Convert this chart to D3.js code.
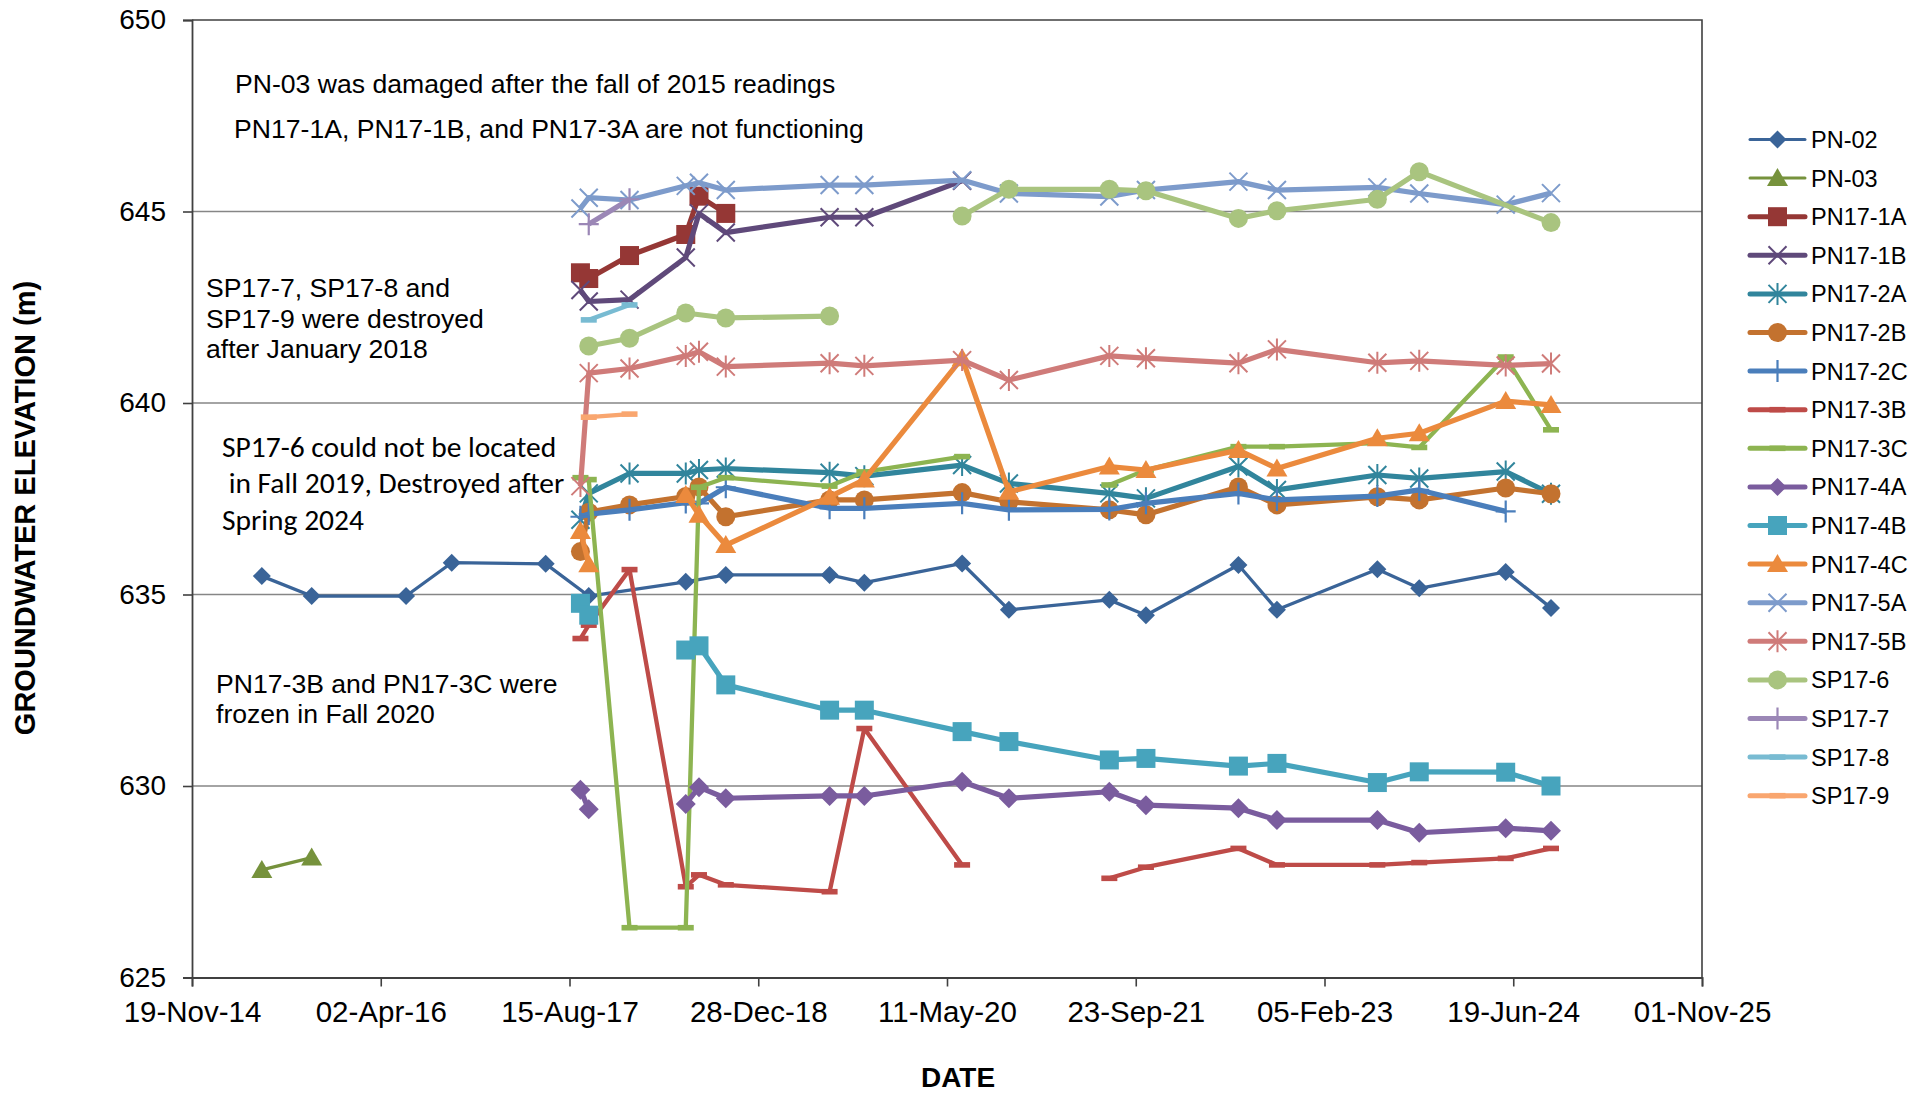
<!DOCTYPE html>
<html>
<head>
<meta charset="utf-8">
<script src="https://cdn.jsdelivr.net/npm/d3@7"></script>
<style>
  body { margin: 0; background: #fff; }
  text { font-family: 'Liberation Sans', Arial, sans-serif; fill: #000; }
</style>
</head>
<body>
<div id="root"></div>
<script>
'use strict';

// sampling dates (shared by all wells); null = no reading on that date
const sampleDates = ['2015-05-23', '2015-10-02', '2016-06-08', '2016-10-07', '2017-06-13',
                     '2017-09-13', '2017-10-05', '2018-01-21', '2018-06-19', '2018-07-24',
                     '2018-10-03', '2019-07-05', '2019-10-05', '2020-06-20', '2020-10-22',
                     '2021-07-15', '2021-10-20', '2022-06-22', '2022-10-02', '2023-06-25',
                     '2023-10-14', '2024-05-30', '2024-09-27'];

const pn02   = [635.48, 634.96, 634.96, 635.83, 635.80, null, 634.96, null, 635.33, null, 635.51,
                635.51, 635.31, 635.81, 634.60, 634.86, 634.46, 635.77, 634.60, 635.66, 635.16, 635.59, 634.65];
const pn03   = [627.81, 628.13, null, null, null, null, null, null, null, null, null,
                null, null, null, null, null, null, null, null, null, null, null, null];
const pn171A = [null, null, null, null, null, 643.40, 643.25, 643.85, 644.40, 645.40, 644.95,
                null, null, null, null, null, null, null, null, null, null, null, null];
const pn171B = [null, null, null, null, null, 642.95, 642.65, 642.70, 643.80, 644.95, 644.45,
                644.85, 644.85, 645.80, null, null, null, null, null, null, null, null, null];
const pn172A = [null, null, null, null, null, 636.95, 637.64, 638.16, 638.16, 638.25, 638.29,
                638.18, 638.09, 638.38, 637.90, 637.64, 637.51, 638.34, 637.73, 638.12, 638.03, 638.21, 637.63];
const pn172B = [null, null, null, null, null, 636.12, 637.15, 637.34, 637.56, 637.81, 637.03,
                637.47, 637.47, 637.66, 637.42, 637.21, 637.08, 637.81, 637.34, 637.55, 637.47, 637.78, 637.63];
const pn172C = [null, null, null, null, null, 637.03, 637.10, 637.21, 637.40, 637.38, 637.80,
                637.25, 637.25, 637.38, 637.21, 637.22, 637.38, 637.64, 637.47, 637.57, 637.73, 637.17, null];
const pn173B = [null, null, null, null, null, 633.85, 634.20, 635.65, 627.37, 627.68, 627.42,
                627.24, 631.50, 627.94, null, 627.59, 627.88, 628.37, 627.94, 627.94, 628.00, 628.11, 628.37];
const pn173C = [null, null, null, null, null, 638.05, 638.00, 626.30, 626.30, 637.80, 638.05,
                637.83, 638.20, 638.60, null, 637.86, 638.25, 638.86, 638.86, 638.95, 638.84, 641.20, 639.30];
const pn174A = [null, null, null, null, null, 629.90, 629.39, null, 629.53, 629.97, 629.68,
                629.74, 629.74, 630.11, 629.68, 629.85, 629.50, 629.42, 629.11, 629.11, 628.78, 628.90, 628.83];
const pn174B = [null, null, null, null, null, 634.77, 634.46, null, 633.55, 633.66, 632.64,
                631.98, 631.98, 631.42, 631.16, 630.68, 630.72, 630.52, 630.59, 630.09, 630.37, 630.36, 630.00];
const pn174C = [null, null, null, null, null, 636.66, 635.79, null, 637.60, 637.08, 636.29,
                637.55, 638.00, 641.17, 637.68, 638.34, 638.25, 638.77, 638.29, 639.08, 639.21, 640.05, 639.95];
const pn175A = [null, null, null, null, null, 645.08, 645.36, 645.30, 645.67, 645.75, 645.56,
                645.69, 645.69, 645.82, 645.47, 645.39, 645.56, 645.78, 645.56, 645.63, 645.47, 645.18, 645.48];
const pn175B = [null, null, null, null, null, 637.83, 640.78, 640.90, 641.23, 641.34, 640.95,
                641.04, 640.97, 641.12, 640.60, 641.23, 641.17, 641.04, 641.40, 641.05, 641.10, 640.98, 641.03];
const sp176  = [null, null, null, null, null, null, 641.49, 641.69, 642.35, null, 642.22,
                642.27, null, 644.88, 645.58, 645.58, 645.54, 644.82, 645.02, 645.32, 646.04, null, 644.71];
const sp177  = [null, null, null, null, null, null, 644.67, 645.32, null, null, null,
                null, null, null, null, null, null, null, null, null, null, null, null];
const sp178  = [null, null, null, null, null, null, 642.17, 642.56, null, null, null,
                null, null, null, null, null, null, null, null, null, null, null, null];
const sp179  = [null, null, null, null, null, null, 639.63, 639.71, null, null, null,
                null, null, null, null, null, null, null, null, null, null, null, null];

// dates where a well's line is interrupted (missing / frozen / not located)
const lineBreaks = {
  'PN17-3B': ['2020-10-22'],
  'PN17-3C': ['2020-10-22'],
  'PN17-4A': ['2018-01-21'],
  'PN17-4B': ['2018-01-21'],
  'PN17-4C': ['2018-01-21'],
  'SP17-6':  ['2019-10-05']
};

const seriesNames = ['PN-02', 'PN-03', 'PN17-1A', 'PN17-1B', 'PN17-2A', 'PN17-2B', 'PN17-2C', 'PN17-3B', 'PN17-3C',
                     'PN17-4A', 'PN17-4B', 'PN17-4C', 'PN17-5A', 'PN17-5B', 'SP17-6', 'SP17-7', 'SP17-8', 'SP17-9'];
const seriesValues = [pn02, pn03, pn171A, pn171B, pn172A, pn172B, pn172C, pn173B, pn173C,
                      pn174A, pn174B, pn174C, pn175A, pn175B, sp176, sp177, sp178, sp179];
const seriesColors = ['#3a6498', '#76923c', '#953735', '#5f497a', '#31859c', '#c3722f', '#4a7ebb', '#be4b48', '#8db451',
                      '#7a5c9e', '#47a4bd', '#eb8a3d', '#7d9bcb', '#cf7b79', '#a9c47f', '#9b87b6', '#78bbd2', '#f9a66f'];
const seriesMarkers = ['diamond', 'triangle', 'square', 'x', 'star', 'circle', 'plus', 'dash', 'dash',
                       'diamond', 'square', 'triangle', 'x', 'star', 'circle', 'plus', 'dash', 'dash'];

const yTicks = [625, 630, 635, 640, 645, 650];

const notes = [
  { lines: ['PN-03 was damaged after the fall of 2015 readings'], x: 235, y: 93, lh: 0, font: 'arial' },
  { lines: ['PN17-1A, PN17-1B, and PN17-3A are not functioning'], x: 234, y: 138, lh: 0, font: 'arial' },
  { lines: ['SP17-7, SP17-8 and', 'SP17-9 were destroyed', 'after January 2018'], x: 206, y: 297, lh: 30.5, font: 'arial' },
  { lines: ['SP17-6 could not be located', ' in Fall 2019, Destroyed after', 'Spring 2024'], x: 222, y: 457, lh: 36.3, font: 'calibri' },
  { lines: ['PN17-3B and PN17-3C were', 'frozen in Fall 2020'], x: 216, y: 693, lh: 30, font: 'arial' }
];

function drawMarker(g, type, color, big) {
  const s = big ? 10 : 9;
  if (type === 'diamond') {
    g.append('path').attr('d', `M0,${-s}L${s},0L0,${s}L${-s},0Z`).attr('fill', color);
  } else if (type === 'triangle') {
    g.append('path').attr('d', 'M0,-10L10.5,8L-10.5,8Z').attr('fill', color);
  } else if (type === 'square') {
    g.append('rect').attr('x', -9.5).attr('y', -9.5).attr('width', 19).attr('height', 19).attr('fill', color);
  } else if (type === 'circle') {
    g.append('circle').attr('r', 9.5).attr('fill', color);
  } else if (type === 'x' || type === 'star') {
    g.append('path').attr('d', 'M-9,-9L9,9M-9,9L9,-9' + (type === 'star' ? 'M0,-11L0,11' : ''))
     .attr('stroke', color).attr('stroke-width', 2).attr('fill', 'none');
  } else if (type === 'plus') {
    g.append('path').attr('d', 'M0,-11L0,11M-10,0L10,0')
     .attr('stroke', color).attr('stroke-width', 2.2).attr('fill', 'none');
  } else if (type === 'dash') {
    g.append('rect').attr('x', -8).attr('y', -2.8).attr('width', 16).attr('height', 5.6).attr('fill', color);
  }
}

function makeChart() {
  const    w = 1926,
           h = 1095,
        left = 192,
       right = 1702,
         top = 20,
      bottom = 977.5,

         svg = d3.select('#root')
                 .append('svg')
                 .attr('width', w)
                 .attr('height', h),

   parseDate = d3.utcParse('%Y-%m-%d'),
       start = parseDate('2014-11-19'),
      xTicks = d3.range(9).map((i) => d3.utcDay.offset(start, i * 500)),

      xScale = d3.scaleUtc()
                 .domain([xTicks[0], xTicks[8]])
                 .range([left, right]),

      yScale = d3.scaleLinear()
                 .domain([625, 650])
                 .range([bottom, top]);

  // gridlines
  svg.append('g')
     .selectAll('line')
     .data(yTicks.slice(1, -1))
     .enter()
     .append('line')
     .attr('x1', left)
     .attr('x2', right)
     .attr('y1', (d) => yScale(d))
     .attr('y2', (d) => yScale(d))
     .attr('stroke', '#868686')
     .attr('stroke-width', 1.6);

  // plot frame (top and right)
  svg.append('path')
     .attr('d', `M${left},${top}H${right}V${bottom}`)
     .attr('fill', 'none')
     .attr('stroke', '#404040')
     .attr('stroke-width', 1.6);

  const yAxis = d3.axisLeft(yScale).tickValues(yTicks).tickSize(9).tickPadding(17),
        xAxis = d3.axisBottom(xScale).tickValues(xTicks).tickSize(9).tickPadding(15)
                  .tickFormat(d3.utcFormat('%d-%b-%y'));

  const gy = svg.append('g')
                .attr('transform', `translate(${left},0)`)
                .call(yAxis);
  const gx = svg.append('g')
                .attr('transform', `translate(0,${bottom})`)
                .call(xAxis);

  [gx, gy].forEach((g) => {
    g.select('.domain').attr('stroke', '#404040').attr('stroke-width', 1.8);
    g.selectAll('.tick line').attr('stroke', '#404040').attr('stroke-width', 1.6);
    g.selectAll('.tick text')
     .attr('fill', '#000')
     .style('font-family', "'Liberation Sans', Arial, sans-serif")
     .style('font-size', g === gx ? '29.5px' : '28px');
  });

  svg.append('text')
     .attr('transform', 'translate(35,508) rotate(-90)')
     .attr('text-anchor', 'middle')
     .style('font-size', '29px')
     .style('font-weight', 'bold')
     .text('GROUNDWATER ELEVATION (m)');

  svg.append('text')
     .attr('x', 958)
     .attr('y', 1087)
     .attr('text-anchor', 'middle')
     .style('font-size', '28px')
     .style('font-weight', 'bold')
     .text('DATE');

  // notes
  notes.forEach((n) => {
    const t = svg.append('text')
                 .style('font-size', n.font === 'calibri' ? '29.5px' : '26.6px')
                 .style('font-family', n.font === 'calibri' ? "Carlito, Calibri, Lato, sans-serif" : null)
                 .attr('xml:space', 'preserve');
    n.lines.forEach((line, i) => {
      t.append('tspan')
       .attr('x', n.x)
       .attr('y', n.y + i * n.lh)
       .text(line);
    });
  });

  // series
  const line = d3.line()
                 .x((d) => xScale(d.date))
                 .y((d) => yScale(d.value));

  seriesNames.forEach((name, si) => {
    const color = seriesColors[si],
          breaks = lineBreaks[name] || [],
          segments = [[]];

    sampleDates.forEach((ds, i) => {
      if (breaks.includes(ds)) segments.push([]);
      const v = seriesValues[si][i];
      if (v !== null) segments[segments.length - 1].push({ date: parseDate(ds), value: v });
    });

    const g = svg.append('g').attr('class', 'series');
    const thin = name === 'PN-02' || name === 'PN-03';

    g.selectAll('path.ln')
     .data(segments.filter((s) => s.length > 1))
     .enter()
     .append('path')
     .attr('class', 'ln')
     .attr('d', line)
     .attr('fill', 'none')
     .attr('stroke', color)
     .attr('stroke-width', thin ? 3.3 : (seriesMarkers[si] === 'dash' ? 4.3 : 5.2))
     .attr('stroke-linejoin', 'round');

    segments.flat().forEach((d) => {
      const m = g.append('g')
                 .attr('transform', `translate(${xScale(d.date)},${yScale(d.value)})`);
      drawMarker(m, seriesMarkers[si], color, name === 'PN17-4A');
    });
  });

  // legend
  const legend = svg.append('g').attr('transform', 'translate(1750,139.5)');
  seriesNames.forEach((name, i) => {
    const row = legend.append('g').attr('transform', `translate(0,${i * 38.6})`),
          thin = name === 'PN-02' || name === 'PN-03';
    row.append('line')
       .attr('x1', 0)
       .attr('x2', 55)
       .attr('stroke', seriesColors[i])
       .attr('stroke-width', thin ? 3 : 5)
       .attr('stroke-linecap', 'round');
    drawMarker(row.append('g').attr('transform', 'translate(27.5,0)'), seriesMarkers[i], seriesColors[i], false);
    row.append('text')
       .attr('x', 61)
       .attr('y', 8.5)
       .style('font-size', '23.5px')
       .text(name);
  });
}

makeChart();
</script>
</body>
</html>
